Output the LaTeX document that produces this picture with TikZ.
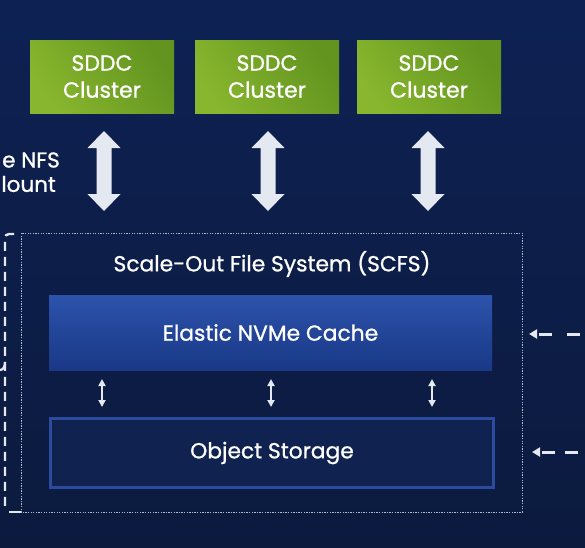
\documentclass[tikz,border=0pt]{standalone}
\usepackage{fontspec}
\setmainfont{Poppins}[FakeBold=0.9]
\usetikzlibrary{arrows.meta}
\definecolor{bgtop}{HTML}{0D2153}
\definecolor{bgbot}{HTML}{0C1A3E}
\definecolor{gA}{HTML}{88B62E}
\definecolor{gB}{HTML}{62941F}
\definecolor{cacheTop}{HTML}{2C53AC}
\definecolor{cacheBot}{HTML}{1A3886}
\definecolor{objBorder}{HTML}{2B4C9E}
\definecolor{objFill}{HTML}{0F2250}
\definecolor{wht}{HTML}{E4E8F0}
\definecolor{dotc}{HTML}{B4BCCC}
\tikzset{
  cluster/.style={minimum width=144pt, minimum height=73pt, inner sep=0pt,
    left color=gA, right color=gB, shading angle=125, text=white,
    font=\fontsize{22}{27}\selectfont, align=center},
  bigarrow/.pic={\fill[wht] (0,-40) -- (16.5,-23) -- (7.5,-23) -- (7.5,23) -- (16.5,23) -- (0,40) -- (-16.5,23) -- (-7.5,23) -- (-7.5,-23) -- (-16.5,-23) -- cycle;},
  smallarrow/.style={wht, line width=1.8pt, {Triangle[width=7pt,length=7pt]}-{Triangle[width=7pt,length=7pt]}},
  label/.style={text=white, font=\fontsize{21.8}{26}\selectfont},
  sidelabel/.style={text=white, font=\fontsize{21.5}{26}\selectfont, anchor=east, inner sep=0pt},
  dashin/.style={wht, line width=3pt, -{Triangle[width=9pt,length=8pt]}},
}
\begin{document}
\begin{tikzpicture}[x=1pt,y=-1pt]
\useasboundingbox (0,0) rectangle (585,547);
\shade[top color=bgtop, bottom color=bgbot] (0,0) rectangle (585,547);
\clip (0,0) rectangle (585,547);

% clusters
\node[cluster] (c1) at (102,76.5) {SDDC\\Cluster};
\node[cluster] (c2) at (267,76.5) {SDDC\\Cluster};
\node[cluster] (c3) at (429,76.5) {SDDC\\Cluster};

% big double arrows
\pic at (104,171) {bigarrow};
\pic at (268,171) {bigarrow};
\pic at (428,171) {bigarrow};

% left labels (cut)
\node[sidelabel] (nfs) at (60,160) {e NFS};
\node[sidelabel] (mnt) at (56,184) {lount};

% SCFS dotted box
\draw[dotc, line width=0.9pt, dash pattern=on 1.3pt off 1.3pt] (21,233) rectangle (522,512);
\node[inner sep=0pt] (scfs) at (271.5,372.5) [minimum width=501pt, minimum height=279pt] {};
\node[label] (scfsl) at (272,264) {Scale-Out File System (SCFS)};

% Elastic cache
\shade[top color=cacheTop, bottom color=cacheBot] (49,295) rectangle (492,370);
\node[label, inner sep=0pt, minimum width=443pt, minimum height=75pt] (cache) at (270.5,332.5) {Elastic NVMe Cache};

% Object storage
\draw[objBorder, fill=objFill, line width=3pt] (50.5,418.5) rectangle (493.5,487.5);
\node[label, inner sep=0pt, minimum width=446pt, minimum height=72pt] (obj) at (272,453) {Object Storage};

% small double arrows
\draw[smallarrow] (102,379) -- (102,407);
\draw[smallarrow] (271,379) -- (271,407);
\draw[smallarrow] (432,379) -- (432,407);

% left dashed bracket
\draw[wht, line width=2.4pt, dash pattern=on 9pt off 6pt, rounded corners=4pt] (14,234) -- (5,234) -- (5,506);
\draw[wht, line width=2.4pt] (9,512) -- (21,512);
\draw[wht, line width=2.2pt] (5,362) to[out=-90,in=0] (0,370);

% right dashed inputs
\coordinate (r1) at (580,334);
\coordinate (t1) at (529,334);
\coordinate (r2) at (578,452);
\coordinate (t2) at (532,452);
\draw[dashin, dash pattern=on 13pt off 15pt] (r1) -- (t1);
\draw[dashin, dash pattern=on 13pt off 10pt] (r2) -- (t2);
\end{tikzpicture}
\end{document}
